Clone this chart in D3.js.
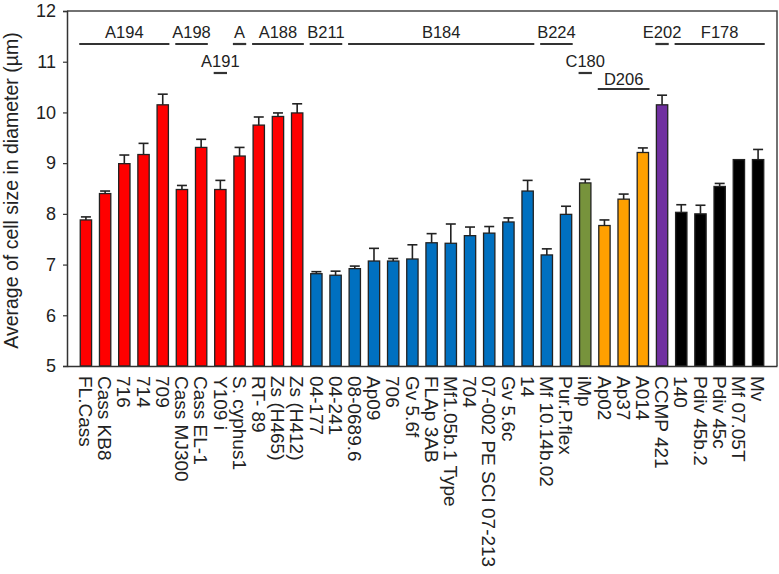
<!DOCTYPE html>
<html>
<head>
<meta charset="utf-8">
<script src="https://cdn.jsdelivr.net/npm/d3@7/dist/d3.min.js"></script>
<style>
  html, body { margin: 0; padding: 0; background: #fff; }
  svg { display: block; font-family: "Liberation Sans", Arial, sans-serif; }
</style>
</head>
<body>
<svg id="chart" width="779" height="574"></svg>
<script>
// ---- data ----
const categories = ["FL.Cass","Cass KB8","716","714","709","Cass MJ300","Cass EL-1","Y109 i","S. cyphus1","RT- 89","Zs (H465)","Zs (H412)",
  "04-177","04-241","08-0689.6","Ap09","706","Gv 5.6f","FLAp 3AB","Mf1.05b.1 Type","704","07-002 PE SCI 07-213","Gv 5.6c","14","Mf 10.14b.02","Pur.P.flex",
  "iMp","Ap02","Ap37","A014","CCMP 421","140","Pdiv 45b.2","Pdiv 45c","Mf 07.05T","Mv"];
const values = [7.88,8.40,8.99,9.17,10.15,8.48,9.31,8.48,9.14,9.75,9.92,9.99,
  6.82,6.79,6.92,7.07,7.07,7.11,7.43,7.42,7.57,7.62,7.84,8.45,7.19,7.99,
  8.61,7.77,8.29,9.21,10.15,8.03,8.00,8.54,9.07,9.07];
const errors = [0.06,0.05,0.17,0.22,0.21,0.08,0.16,0.18,0.17,0.16,0.07,0.18,
  0.04,0.08,0.05,0.25,0.05,0.28,0.18,0.38,0.17,0.13,0.08,0.21,0.12,0.16,
  0.07,0.11,0.10,0.09,0.19,0.15,0.17,0.06,0.00,0.20];
const clades = ["A","A","A","A","A","A","A","A","A","A","A","A",
  "B","B","B","B","B","B","B","B","B","B","B","B","B","B",
  "C","D","D","D","E","F","F","F","F","F"];
const cladeColors = {A:"#ff0000", B:"#0070c0", C:"#77933c", D:"#ffa000", E:"#7030a0", F:"#000000"};
// groups: label, first category index, last category index, row
const groupLabels = ["A194","A198","A191","A","A188","B211","B184","B224","C180","D206","E202","F178"];
const groupStart  = [0,5,7,8,9,12,14,24,26,27,30,31];
const groupEnd    = [4,6,7,8,11,13,23,25,26,29,30,35];
const groupRow    = [0,0,1,0,0,0,0,0,1,2,0,0];
const yTicks = [5,6,7,8,9,10,11,12];
const yTitle = "Average of cell size in diameter (\u00b5m)";

// ---- layout ----
const svg = d3.select("#chart");
const L = 67, R = 777, T = 11, B = 366;

const x = d3.scaleBand().domain(categories).range([L, R]).paddingInner(0.41).paddingOuter(0.69);
const y = d3.scaleLinear().domain([5, 12]).range([B, T]);

// frame (top and right)
svg.append("path")
  .attr("d", `M${L},${T}H${R}V${B}`)
  .attr("fill", "none").attr("stroke", "#444").attr("stroke-width", 1.5);

// bars
svg.append("g").selectAll("rect").data(categories).join("rect")
  .attr("x", d => x(d))
  .attr("width", x.bandwidth())
  .attr("y", (d, i) => y(values[i]))
  .attr("height", (d, i) => y(5) - y(values[i]))
  .attr("fill", (d, i) => cladeColors[clades[i]])
  .attr("stroke", "#222").attr("stroke-width", 1.3);

// error bars (upper only)
const eg = svg.append("g").attr("stroke", "#222").attr("stroke-width", 1.6);
categories.forEach((d, i) => {
  if (errors[i] <= 0) return;
  const cx = x(d) + x.bandwidth() / 2;
  const y0 = y(values[i]), y1 = y(values[i] + errors[i]);
  eg.append("line").attr("x1", cx).attr("x2", cx).attr("y1", y0).attr("y2", y1);
  eg.append("line").attr("x1", cx - 5).attr("x2", cx + 5).attr("y1", y1).attr("y2", y1);
});

// y axis
const yAxis = svg.append("g").attr("transform", `translate(${L},0)`)
  .call(d3.axisLeft(y).tickValues(yTicks).tickFormat(d3.format("d")).tickSize(4).tickPadding(7));
yAxis.select(".domain").attr("stroke", "#333").attr("stroke-width", 1.5);
yAxis.selectAll(".tick line").attr("stroke", "#333").attr("stroke-width", 1.2);
yAxis.selectAll(".tick text").attr("font-size", 18).attr("fill", "#222")
  .attr("font-family", "'Liberation Sans', Arial, sans-serif");

// x axis (baseline + rotated labels)
const xAxis = svg.append("g").attr("transform", `translate(0,${B})`)
  .call(d3.axisBottom(x).tickSize(0).tickPadding(0));
xAxis.select(".domain").attr("stroke", "#333").attr("stroke-width", 1.5);
xAxis.selectAll(".tick text")
  .attr("font-size", 19).attr("fill", "#222")
  .attr("font-family", "'Liberation Sans', Arial, sans-serif")
  .attr("text-anchor", "start")
  .attr("transform", "translate(0,10) rotate(90)")
  .attr("x", 0).attr("y", 0).attr("dy", "0.36em");

// y title
svg.append("text")
  .attr("transform", `translate(18,${(T + B) / 2 + 2}) rotate(-90)`)
  .attr("text-anchor", "middle")
  .attr("font-size", 19.5).attr("fill", "#222")
  .text(yTitle);

// group labels and lines
const rowLineY = [44, 73, 89];
const rowTextY = [38, 67, 85];
const gg = svg.append("g");
groupLabels.forEach((lab, k) => {
  const x0 = x(categories[groupStart[k]]) - 1;
  const x1 = x(categories[groupEnd[k]]) + x.bandwidth() + 1;
  const r = groupRow[k];
  gg.append("line").attr("x1", x0).attr("x2", x1)
    .attr("y1", rowLineY[r]).attr("y2", rowLineY[r])
    .attr("stroke", "#333").attr("stroke-width", 2.2);
  gg.append("text").attr("x", (x0 + x1) / 2).attr("y", rowTextY[r])
    .attr("text-anchor", "middle").attr("font-size", 16.5).attr("fill", "#222")
    .text(lab);
});
</script>
</body>
</html>
